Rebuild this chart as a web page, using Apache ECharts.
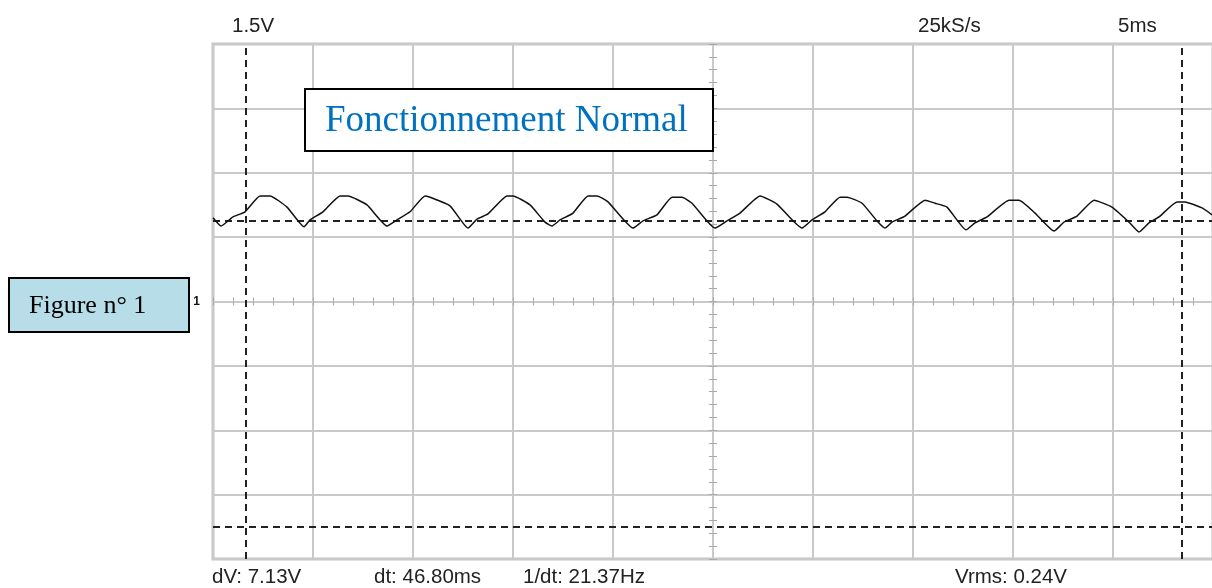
<!DOCTYPE html>
<html>
<head>
<meta charset="utf-8">
<script src="https://cdn.jsdelivr.net/npm/echarts@6/dist/echarts.min.js"></script>
<style>
  html, body { margin: 0; padding: 0; background: #fff; }
  #scope { width: 1212px; height: 588px; }
</style>
</head>
<body>
<div id="scope"></div>
<script>
// trace: time in ms (5 ms/div), level in V (1.5 V/div)
var timeMs = [0.00, 0.40, 1.00, 1.60, 2.35, 2.85, 3.70, 4.55, 4.85, 5.50, 6.35, 6.75, 7.70, 8.70,
  9.20, 9.85, 10.60, 10.85, 11.85, 12.75, 13.20, 13.75, 14.70, 15.00, 15.85, 16.60, 16.95,
  17.35, 18.00, 18.75, 19.20, 19.75, 21.00, 21.50, 22.20, 22.95, 23.45, 23.95, 25.10, 25.70,
  26.35, 27.35, 28.20, 29.45, 29.95, 30.60, 31.35, 31.70, 32.45, 33.25, 33.60, 33.95, 34.60,
  35.60, 36.10, 36.70, 37.65, 38.10, 38.70, 39.80, 40.30, 41.10, 42.05, 42.55, 43.20, 44.05,
  44.95, 45.80, 46.30, 46.80, 47.30, 48.20, 48.60, 49.45, 49.95];
var volts = [1.95, 1.76, 1.97, 2.09, 2.46, 2.46, 2.20, 1.74, 1.90, 2.09, 2.46, 2.46, 2.25, 1.76,
  1.90, 2.09, 2.46, 2.43, 2.23, 1.71, 1.92, 2.04, 2.46, 2.46, 2.25, 1.85, 1.76,
  1.90, 2.06, 2.46, 2.46, 2.32, 1.71, 1.88, 2.02, 2.43, 2.43, 2.29, 1.71, 1.88,
  2.06, 2.46, 2.27, 1.71, 1.90, 2.09, 2.43, 2.43, 2.29, 1.85, 1.71, 1.85, 1.99,
  2.36, 2.29, 2.20, 1.67, 1.83, 1.97, 2.36, 2.36, 2.06, 1.64, 1.85, 1.99, 2.36,
  2.20, 1.85, 1.62, 1.83, 1.97, 2.32, 2.32, 2.18, 2.02];

// cursors
var cursorTimes = [1.65, 48.45];
var cursorVolts = [1.88, -5.25];

// screen readouts
var topTexts = ['1.5V', '25kS/s', '5ms'];
var bottomTexts = ['dV: 7.13V', 'dt: 46.80ms', '1/dt: 21.37Hz', 'Vrms: 0.24V'];

var gridGray = '#c9c9c9';
var tickGray = '#a9a9a9';
var readoutFont = '20.5px "Liberation Sans", Arial, sans-serif';

var chart = echarts.init(document.getElementById('scope'));

var trace = timeMs.map(function (t, i) { return [t, volts[i]]; });

var cursorLines = [];
cursorTimes.forEach(function (t) { cursorLines.push({ xAxis: t }); });
cursorVolts.forEach(function (v) { cursorLines.push({ yAxis: v }); });

function readout(text, x, y) {
    return {
        type: 'text', z: 10,
        style: { text: text, x: x, y: y, font: readoutFont, fill: '#222', textVerticalAlign: 'middle', verticalAlign: 'middle' }
    };
}

// center cross with small ticks, one axis per tick direction
function centerX(pos) {
    return {
        type: 'value', min: 0, max: 50, interval: 1, position: pos,
        axisLine: { show: true, onZero: true, onZeroAxisIndex: 0, lineStyle: { color: gridGray, width: 2 } },
        axisTick: { show: true, length: 4, lineStyle: { color: tickGray, width: 1 } },
        axisLabel: { show: false }, splitLine: { show: false }
    };
}
function centerY(pos) {
    return {
        type: 'value', min: -6, max: 6, interval: 0.3, position: pos,
        axisLine: { show: true, onZero: true, onZeroAxisIndex: 3, lineStyle: { color: gridGray, width: 2 } },
        axisTick: { show: true, length: 4, lineStyle: { color: tickGray, width: 1 } },
        axisLabel: { show: false }, splitLine: { show: false }
    };
}

var option = {
    animation: false,
    backgroundColor: '#fff',
    grid: {
        left: 213, top: 44, width: 1000, height: 515,
        show: true, borderColor: '#c4c4c4', borderWidth: 3, backgroundColor: '#fff',
        outerBoundsMode: 'none'
    },
    xAxis: [
        {
            type: 'value', min: 0, max: 50, interval: 5, position: 'bottom',
            axisLine: { show: false, onZero: false }, axisTick: { show: false }, axisLabel: { show: false },
            splitLine: { show: true, lineStyle: { color: gridGray, width: 2 } }
        },
        centerX('bottom'),
        centerX('top'),
        {
            // same time span, centred on the screen, gives the vertical centre line its place
            type: 'value', min: -25, max: 25, interval: 5, position: 'top',
            axisLine: { show: false, onZero: false }, axisTick: { show: false }, axisLabel: { show: false },
            splitLine: { show: false }
        }
    ],
    yAxis: [
        {
            type: 'value', min: -6, max: 6, interval: 1.5, position: 'left',
            axisLine: { show: false, onZero: false }, axisTick: { show: false },
            axisLabel: {
                show: true, margin: 13, color: '#111', fontSize: 12, fontWeight: 'bold',
                fontFamily: 'Liberation Sans',
                formatter: function (v) { return v === 0 ? '1' : ''; }
            },
            splitLine: { show: true, lineStyle: { color: gridGray, width: 2 } }
        },
        centerY('left'),
        centerY('right')
    ],
    series: [
        {
            type: 'line', xAxisIndex: 0, yAxisIndex: 0, data: trace,
            showSymbol: false, symbol: 'none', z: 5, smooth: 0.15,
            lineStyle: { color: '#111', width: 1.5 },
            markLine: {
                silent: true, symbol: 'none', animation: false,
                label: { show: false },
                lineStyle: { color: '#222', width: 2, type: [7, 5] },
                data: cursorLines
            }
        }
    ],
    graphic: [
        readout(topTexts[0], 232, 26),
        readout(topTexts[1], 918, 26),
        readout(topTexts[2], 1118, 26),
        readout(bottomTexts[0], 212, 577),
        readout(bottomTexts[1], 374, 577),
        readout(bottomTexts[2], 523, 577),
        readout(bottomTexts[3], 955, 577),
        {
            type: 'rect', z: 20,
            shape: { x: 305, y: 89, width: 408, height: 62 },
            style: { fill: '#fff', stroke: '#000', lineWidth: 2 }
        },
        {
            type: 'text', z: 21,
            style: {
                text: 'Fonctionnement Normal', x: 325, y: 121,
                font: '37px "Liberation Serif", "Times New Roman", serif',
                fill: '#0070c0', textVerticalAlign: 'middle', verticalAlign: 'middle'
            }
        },
        {
            type: 'rect', z: 20,
            shape: { x: 9, y: 278, width: 180, height: 54 },
            style: { fill: '#b7dde8', stroke: '#000', lineWidth: 2 }
        },
        {
            type: 'text', z: 21,
            style: {
                text: 'Figure n° 1', x: 29, y: 306,
                font: '26px "Liberation Serif", "Times New Roman", serif',
                fill: '#000', textVerticalAlign: 'middle', verticalAlign: 'middle'
            }
        }
    ]
};

chart.setOption(option);
</script>
</body>
</html>
